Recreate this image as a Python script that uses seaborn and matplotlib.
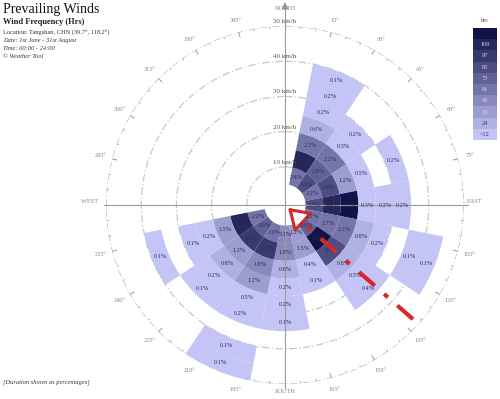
import numpy as np
import pandas as pd
import matplotlib
matplotlib.use("Agg")
import matplotlib.pyplot as plt
import seaborn as sns

# 16 direction sectors, speed bins of 5 km/h (lower edges), values in % of hours
directions = ["N", "NNE", "NE", "ENE", "E", "ESE", "SE", "SSE",
              "S", "SSW", "SW", "WSW", "W", "WNW", "NW", "NNW"]
speed_lo = [5, 10, 15, 20, 25, 30, 35, 40, 45]

pct_N = [0, 0, 0, 0, 0, 0, 0, 0, 0]
pct_NNE = [2.4, 4.6, 2.2, 0.6, 0.2, 0.2, 0.1, 0, 0]
pct_NE = [3.3, 2.8, 2.2, 0.3, 0.2, 0, 0, 0, 0]
pct_ENE = [2.2, 3.6, 1.2, 0.5, 0, 0.2, 0, 0, 0]
pct_E = [3.5, 4.4, 5.2, 0.3, 0.2, 0.2, 0, 0, 0]
pct_ESE = [2.2, 2.7, 2.2, 0.8, 0.2, 0, 0.1, 0.1, 0]
pct_SE = [3.0, 7.8, 3.6, 0.8, 0.5, 0.4, 0, 0, 0]
pct_SSE = [1.2, 1.5, 0.4, 0.1, 0, 0, 0, 0, 0]
pct_S = [2.1, 1.8, 0.6, 0.2, 0.2, 0.1, 0, 0, 0]
pct_SSW = [2.6, 3.9, 1.8, 1.2, 0.5, 0.2, 0, 0.1, 0.1]
pct_SW = [3.0, 4.2, 1.2, 0.8, 0.2, 0.1, 0, 0, 0]
pct_WSW = [2.2, 4.4, 1.5, 0.2, 0.1, 0, 0.1, 0, 0]
pct_W = [0, 0, 0, 0, 0, 0, 0, 0, 0]
pct_WNW = [0, 0, 0, 0, 0, 0, 0, 0, 0]
pct_NW = [0, 0, 0, 0, 0, 0, 0, 0, 0]
pct_NNW = [0, 0, 0, 0, 0, 0, 0, 0, 0]

legend_labels = ["", "109", "97", "85", "73", "61", "48", "36", "24", "<12"]
ring_speeds = [10, 20, 30, 40, 50]
total_hours = 92 * 24

all_pct = [pct_N, pct_NNE, pct_NE, pct_ENE, pct_E, pct_ESE, pct_SE, pct_SSE,
           pct_S, pct_SSW, pct_SW, pct_WSW, pct_W, pct_WNW, pct_NW, pct_NNW]

rows = []
for i, d in enumerate(directions):
    for lo, p in zip(speed_lo, all_pct[i]):
        if p > 0:
            rows.append({"dir": d, "angle": i * 22.5, "lo": lo, "pct": p})
df = pd.DataFrame(rows)
df["hours"] = df["pct"] / 100 * total_hours

sns.set_style("white")
plt.rcParams["font.family"] = ["Liberation Serif", "DejaVu Serif"]

palette = sns.blend_palette(["#c4c4f6", "#12124a"], 10)
df["level"] = np.clip(np.ceil(df["hours"] / 12.1) - 1, 0, 9).astype(int)

fig = plt.figure(figsize=(5, 3.99), dpi=100)
ax = fig.add_axes([0.212, 0.0376, 0.716, 0.897], projection="polar")
ax.set_theta_zero_location("N")
ax.set_theta_direction(-1)
ax.set_ylim(0, 50)
ax.set_rorigin(-0.85)
ax.set_axis_off()

# dashed speed rings
t = np.linspace(0, 2 * np.pi, 500)
for v in ring_speeds[:-1]:
    ax.plot(t, np.full_like(t, v), color="#c8c8c8", lw=0.9,
            ls=(0, (6, 2, 1, 2)), zorder=1)
ax.plot(t, np.full_like(t, 50), color="#b0b0b0", lw=0.8,
        ls=(0, (6, 2, 1, 2)), zorder=1)

# degree ticks on the outer ring
for deg in range(0, 360, 5):
    th = np.deg2rad(deg)
    if deg % 15 == 0:
        ax.plot([th, th], [48.6, 51.4], color="#9a9a9a", lw=0.7, zorder=1)
        if deg % 90 != 0:
            ax.text(th, 53.5, f"{deg}°", fontsize=4.5, color="#888888",
                    ha="center", va="center")
    else:
        ax.plot([th, th], [49.4, 50.6], color="#aaaaaa", lw=0.6, zorder=1)

# wind cells
for _, r in df.iterrows():
    ax.bar(np.deg2rad(r["angle"]), 5, width=np.deg2rad(22.5), bottom=r["lo"],
           color=palette[r["level"]], edgecolor="none", align="center", zorder=2)
    ax.text(np.deg2rad(r["angle"]), r["lo"] + 2.5, f"{r['pct']:.1f}%",
            fontsize=4.4, color="#2a2a55", ha="center", va="center", zorder=4)

# cross lines and compass labels
ax.plot([-0.005, 1.012], [0.5, 0.5], transform=ax.transAxes, color="#9a9a9a",
        lw=0.8, clip_on=False, zorder=3)
ax.plot([0.5, 0.5], [-0.012, 1.055], transform=ax.transAxes, color="#9a9a9a",
        lw=0.8, clip_on=False, zorder=3)
ax.annotate("", xy=(0.5, 1.075), xytext=(0.5, 1.04), xycoords="axes fraction",
            arrowprops=dict(arrowstyle="-|>", color="#9a9a9a", lw=0.8))
ax.text(0.5, 1.05, "NORTH", transform=ax.transAxes, fontsize=4.5,
        color="#888888", ha="center", va="center")
ax.text(0.5, -0.02, "SOUTH", transform=ax.transAxes, fontsize=4.5,
        color="#888888", ha="center", va="center")
ax.text(-0.045, 0.51, "WEST", transform=ax.transAxes, fontsize=4.5,
        color="#888888", ha="center", va="center")
ax.text(1.03, 0.51, "EAST", transform=ax.transAxes, fontsize=4.5,
        color="#888888", ha="center", va="center")

for v in ring_speeds:
    ax.text(0, v + 0.6, f"{v} km/h", fontsize=5, color="#555555",
            ha="center", va="bottom", zorder=5)

# red dashed arrow pointing into the prevailing direction
fig.add_artist(plt.Line2D([0.826, 0.596], [0.200, 0.452], transform=fig.transFigure,
                          color="#d62828", lw=3, ls=(0, (5, 3, 1.2, 3))))
ax.annotate("", xy=(0.572, 0.484), xytext=(0.606, 0.444), xycoords="figure fraction",
            arrowprops=dict(arrowstyle="-|>,head_width=0.45,head_length=0.7",
                            mutation_scale=18, fc="white", ec="#d62828", lw=2.2))

# legend strip (hours)
cax = fig.add_axes([0.946, 0.649, 0.048, 0.281])
legend_vals = np.arange(9, -1, -1).reshape(-1, 1)
sns.heatmap(legend_vals, ax=cax, cmap=sns.blend_palette(["#c4c4f6", "#12124a"], 10, as_cmap=True),
            cbar=False, annot=np.array(legend_labels).reshape(-1, 1), fmt="",
            annot_kws={"fontsize": 4.5, "color": "#d8d8f0"}, xticklabels=False,
            yticklabels=False)
for txt in cax.texts[-2:]:
    txt.set_color("#333366")
fig.text(0.97, 0.945, "hrs", fontsize=4.5, color="#555555", ha="center")

# header text
fig.text(0.006, 0.993, "Prevailing Winds", fontsize=10, va="top", color="#111111")
fig.text(0.006, 0.955, "Wind Frequency (Hrs)", fontsize=6, fontweight="bold",
         va="top", color="#222222")
fig.text(0.006, 0.925, "Location: Tangshan, CHN (39.7°, 118.2°)", fontsize=4.6,
         va="top", color="#333333")
fig.text(0.006, 0.905, "Date: 1st June - 31st August", fontsize=4.6, style="italic",
         va="top", color="#333333")
fig.text(0.006, 0.885, "Time: 00:00 - 24:00", fontsize=4.6, style="italic",
         va="top", color="#333333")
fig.text(0.006, 0.865, "© Weather Tool", fontsize=4.6, style="italic",
         va="top", color="#333333")
fig.text(0.006, 0.035, "[Duration shown as percentages]", fontsize=4.6,
         style="italic", va="bottom", color="#333333")

fig.savefig("out.png", dpi=100)
